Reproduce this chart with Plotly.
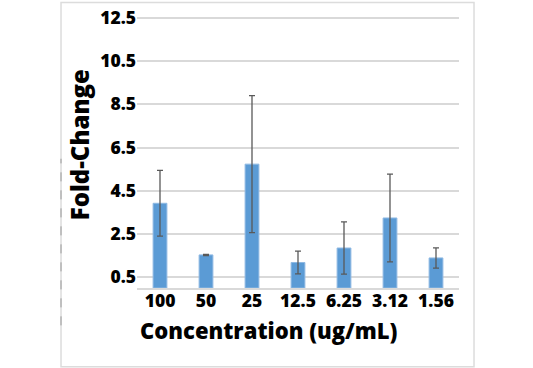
import plotly.graph_objects as go

categories = ["100", "50", "25", "12.5", "6.25", "3.12", "1.56"]
fold_change = [3.92, 1.53, 5.73, 1.18, 1.85, 3.24, 1.39]
error = [1.52, 0.03, 3.17, 0.53, 1.21, 2.03, 0.47]
y_ticks = [0.5, 2.5, 4.5, 6.5, 8.5, 10.5, 12.5]

FONT = "Open Sans"
W = 800

fig = go.Figure(
    go.Bar(
        x=categories,
        y=fold_change,
        width=0.3,
        marker=dict(color="#5B9BD5", line=dict(color="#8FB9E3", width=1)),
        error_y=dict(type="data", array=error, visible=True,
                     color="#595959", thickness=1.3, width=3),
    )
)

fig.update_layout(
    width=533, height=368,
    margin=dict(l=137, r=74, t=5, b=80),
    paper_bgcolor="white", plot_bgcolor="white",
    showlegend=False,
    font=dict(family=FONT, color="black"),
)

fig.update_xaxes(
    type="category",
    tickfont=dict(family=FONT, size=17.5, color="black", weight=W),
    showline=True, linecolor="#d9d9d9", linewidth=1.5,
    showgrid=False, ticks="",
    ticklabelstandoff=-4,
)
fig.update_yaxes(
    range=[0, 13],
    tickvals=y_ticks,
    ticktext=[str(v) for v in y_ticks],
    tickfont=dict(family=FONT, size=17.5, color="black", weight=W),
    showgrid=True, gridcolor="#d9d9d9", gridwidth=1.5,
    zeroline=False, showline=False, ticks="",
    ticklabelstandoff=0,
)

fig.add_annotation(
    text="Concentration (ug/mL)", xref="paper", yref="paper",
    x=0.41, y=-0.15, xanchor="center", yanchor="middle", showarrow=False,
    font=dict(family=FONT, size=22, color="black", weight=W),
)
fig.add_annotation(
    text="Fold-Change", xref="paper", yref="paper", textangle=-90,
    x=-0.1786, y=0.51, xanchor="center", yanchor="middle", showarrow=False,
    font=dict(family=FONT, size=24, color="black", weight=W),
)

fig.add_shape(type="rect", xref="paper", yref="paper",
              x0=-0.236, x1=1.0466, y0=-0.280, y1=1.016,
              line=dict(color="#dcdcdc", width=1.5), layer="below")
fig.add_shape(type="line", xref="paper", yref="paper",
              x0=-0.236, x1=-0.236, y0=-0.133, y1=0.46,
              line=dict(color="#9a9a9a", width=1, dash="dash"))

fig.write_html("out.html", config={"displayModeBar": False},
               post_script="document.body.style.margin='0';")
